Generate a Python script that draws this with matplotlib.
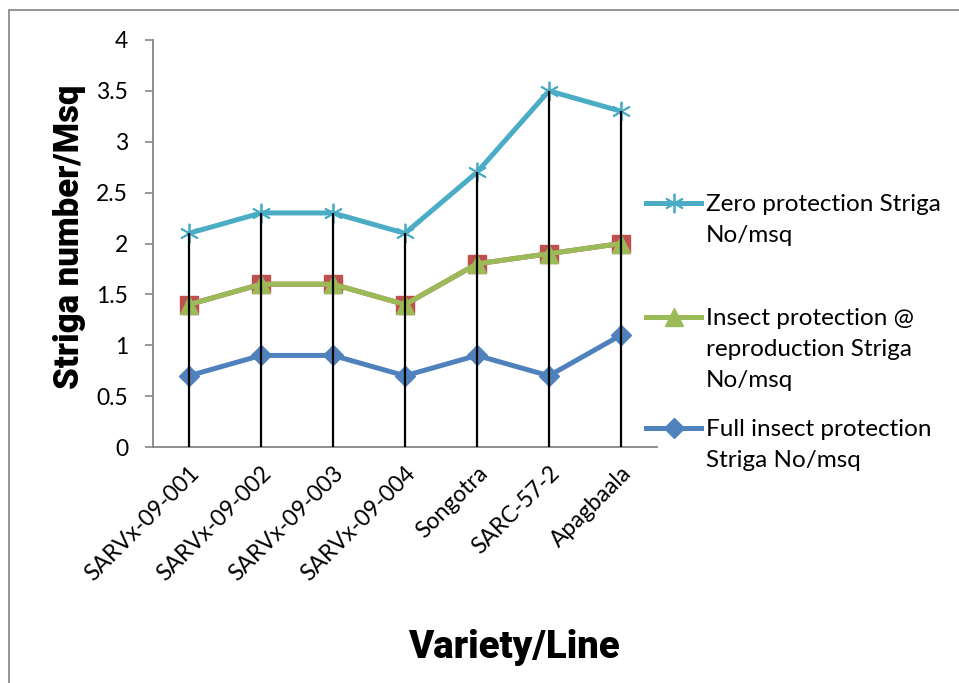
import matplotlib
matplotlib.use("Agg")
import matplotlib.pyplot as plt
from matplotlib.patches import Rectangle
from matplotlib.lines import Line2D

varieties = ["SARVx-09-001", "SARVx-09-002", "SARVx-09-003", "SARVx-09-004",
             "Songotra", "SARC-57-2", "Apagbaala"]
zero_protection = [2.1, 2.3, 2.3, 2.1, 2.7, 3.5, 3.3]
reproduction_protection = [1.4, 1.6, 1.6, 1.4, 1.8, 1.9, 2.0]
reproduction_hidden = [1.4, 1.6, 1.6, 1.4, 1.8, 1.9, 2.0]
full_protection = [0.7, 0.9, 0.9, 0.7, 0.9, 0.7, 1.1]
y_ticks = [0, 0.5, 1, 1.5, 2, 2.5, 3, 3.5, 4]
y_tick_labels = ["0", "0.5", "1", "1.5", "2", "2.5", "3", "3.5", "4"]

label_names = ["Zero protection Striga\nNo/msq",
               "Insect protection @\nreproduction Striga\nNo/msq",
               "Full insect protection\nStriga No/msq"]

plt.rcParams["font.family"] = ["Lato", "DejaVu Sans"]

W, H = 959, 683
fig = plt.figure(figsize=(W / 100, H / 100), dpi=100)
fig.patch.set_facecolor("white")
fig.patches.append(Rectangle((9 / W, -0.05), 1.1, 1 - 10 / H + 0.05,
                             transform=fig.transFigure, fill=False,
                             edgecolor="#8c8c8c", linewidth=1.3))

ax = fig.add_axes([153 / W, 1 - 447 / H, 504 / W, 407 / H])
x = list(range(len(varieties)))

colors = {"zero": "#4BACC6", "rep": "#9BBB59", "full": "#4F81BD"}
markers = {
    "zero": dict(marker=(6, 2, 0), markersize=14, markeredgewidth=1.3),
    "rep": dict(marker="^", markersize=13),
    "full": dict(marker="D", markersize=10),
}

ax.plot(x, full_protection, color=colors["full"], lw=3.6, zorder=3,
        **markers["full"])
ax.plot(x, reproduction_hidden, color="#C0504D", lw=3.6, marker="s",
        markersize=13, zorder=3)
ax.plot(x, reproduction_protection, color=colors["rep"], lw=3.6, zorder=4,
        **markers["rep"])
ax.plot(x, zero_protection, color=colors["zero"], lw=3.6, zorder=5,
        **markers["zero"])

# drop lines from the highest series down to the category axis
ax.vlines(x, 0, zero_protection, color="black", lw=1.6, zorder=6)

ax.set_xlim(-0.5, len(varieties) - 0.5)
ax.set_ylim(0, 4)
ax.set_yticks(y_ticks)
ax.set_yticklabels(y_tick_labels, fontsize=16.5)
ax.set_xticks(x)
ax.set_xticklabels(varieties, fontsize=16.5, rotation=45, ha="right",
                   rotation_mode="anchor")
ax.tick_params(axis="y", direction="out", length=6, width=1.2, color="#868686",
               pad=12)
ax.tick_params(axis="x", length=0, pad=11)
for s in ["top", "right"]:
    ax.spines[s].set_visible(False)
for s in ["left", "bottom"]:
    ax.spines[s].set_color("#868686")
    ax.spines[s].set_linewidth(1.3)

title_font = dict(family=["Roboto", "DejaVu Sans"], fontweight=900)
fig.text(70 / W, 1 - 237 / H, "Striga number/Msq", rotation=90,
         ha="center", va="center", fontsize=25, **title_font)
fig.text(514 / W, 1 - 647 / H, "Variety/Line", ha="center", va="center",
         fontsize=27.5, **title_font)

# legend: handle aligned with the first line of each label
legend_rows = [(203, "zero"), (317, "rep"), (428, "full")]
for (row_y, key), text in zip(legend_rows, label_names):
    yf = 1 - row_y / H
    fig.add_artist(Line2D([646 / W, 701 / W], [yf, yf], lw=3.6,
                          color=colors[key], transform=fig.transFigure))
    fig.add_artist(Line2D([673.5 / W], [yf], lw=0, color=colors[key],
                          transform=fig.transFigure, **markers[key]))
    fig.text(706 / W, yf + 9 / H, text, ha="left", va="top", fontsize=17.5,
             linespacing=1.6)

fig.savefig("out.png", dpi=100, facecolor="white")
